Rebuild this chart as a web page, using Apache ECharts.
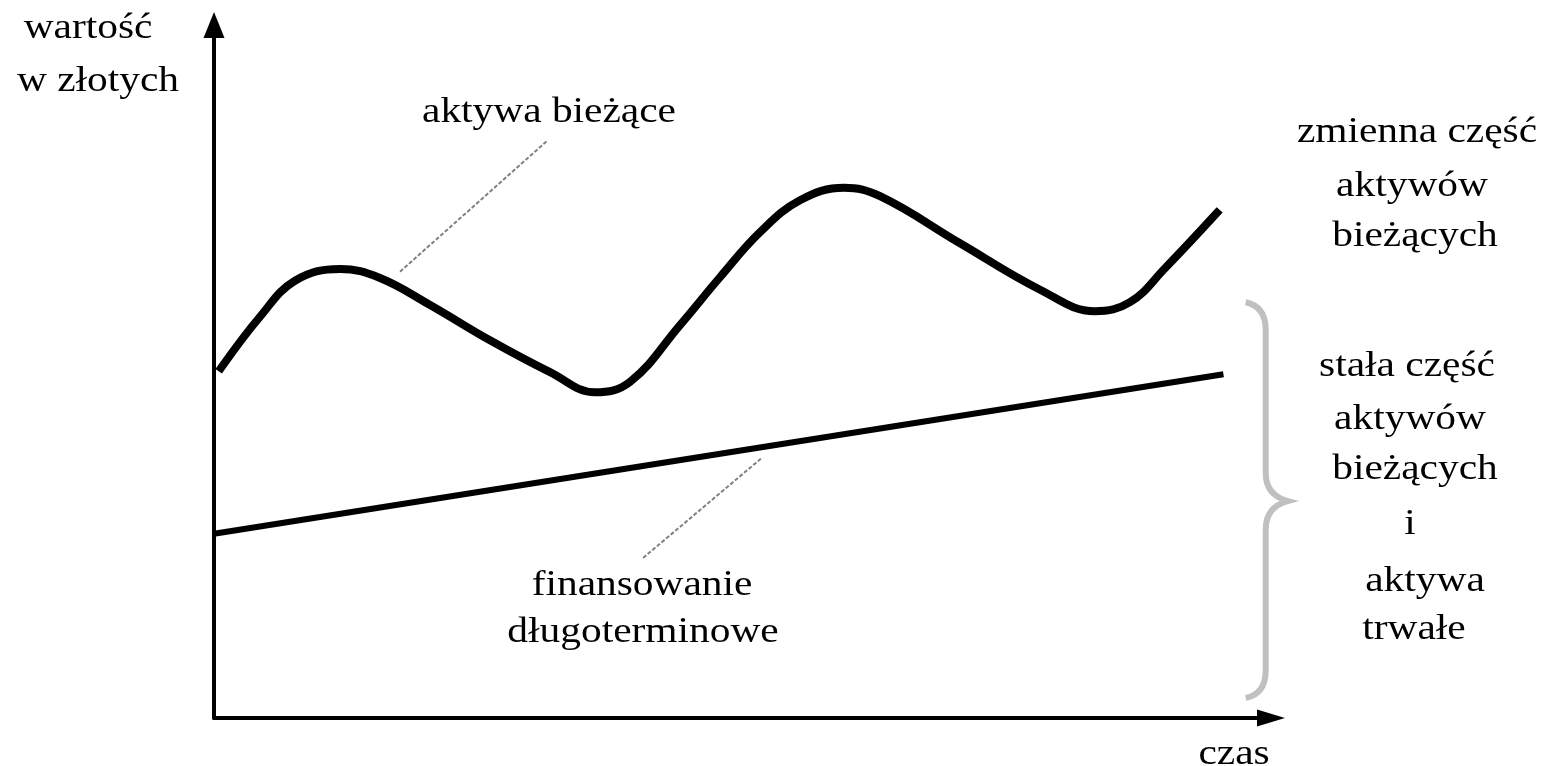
<!DOCTYPE html>
<html>
<head>
<meta charset="utf-8">
<script src="https://cdn.jsdelivr.net/npm/echarts@6/dist/echarts.min.js"></script>
<style>
  html, body { margin: 0; padding: 0; background: #fff; }
  #chart { width: 1548px; height: 766px; }
</style>
</head>
<body>
<div id="chart"></div>
<script>
// Time axis (arbitrary units 0–100) and value axis (0–100)
const czas = [0.66, 4.35, 7.66, 11.92, 15.70, 20.44, 26.11, 31.79, 36.05, 39.36, 44.09, 47.87, 51.66,
  55.44, 59.60, 63.01, 70.58, 78.15, 83.35, 86.66, 89.97, 94.89];
// Current assets, fluctuating over time
const aktywaBiezace = [50.5, 57.9, 63.1, 64.8, 63.5, 59.6, 54.5, 49.9, 47.0, 48.5, 56.7, 63.6, 70.1,
  74.7, 76.5, 75.3, 68.5, 61.8, 58.7, 60.0, 64.9, 72.9];
// Long-term financing, growing steadily
const finansowanieCzas = [0, 95.5];
const finansowanie = [26.6, 49.6];
// Pointer lines from labels to curves
const wskaznikAktywa = [[17.6, 64.4], [31.6, 83.4]];
const wskaznikFinansowanie = [[40.6, 23.1], [51.8, 37.5]];
// Brace range on the value axis: bottom, tip, top
const klamra = [2.9, 31.3, 60.0];

// Text lines
const osY = ['wartość', 'w złotych'];
const osX = 'czas';
const etykietaAktywa = 'aktywa bieżące';
const etykietaFinansowanie = ['finansowanie', 'długoterminowe'];
const opisZmienna = ['zmienna część', 'aktywów', 'bieżących'];
const opisStala = ['stała część', 'aktywów', 'bieżących', 'i', 'aktywa', 'trwałe'];

const chart = echarts.init(document.getElementById('chart'));

const FONT = '36px "Liberation Serif", "DejaVu Serif", serif';
function txt(text, x, y) {
  return {
    type: 'text', x: x, y: y, scaleX: 1.15, z: 100,
    style: { text: text, font: FONT, fill: '#000', align: 'center', verticalAlign: 'middle' }
  };
}

const textLayout = [
  [osY[0], 88, 29], [osY[1], 98, 82],
  [etykietaAktywa, 549, 113],
  [etykietaFinansowanie[0], 642, 586], [etykietaFinansowanie[1], 643, 633],
  [opisZmienna[0], 1417, 133], [opisZmienna[1], 1412, 187], [opisZmienna[2], 1415, 237],
  [opisStala[0], 1407, 367], [opisStala[1], 1410, 420], [opisStala[2], 1415, 470],
  [opisStala[3], 1410, 525], [opisStala[4], 1425, 582], [opisStala[5], 1414, 630],
  [osX, 1234, 755]
];

const axisCommon = {
  type: 'value', min: 0, max: 100,
  axisLine: { show: true, symbol: ['none', 'triangle'], lineStyle: { color: '#000', width: 4 } },
  axisTick: { show: false }, axisLabel: { show: false }, splitLine: { show: false }
};

const option = {
  animation: false,
  backgroundColor: '#fff',
  grid: { left: 214, right: 277, top: 25, bottom: 48 },
  xAxis: Object.assign({}, axisCommon, { axisLine: Object.assign({}, axisCommon.axisLine, { symbolSize: [17, 28] }) }),
  yAxis: Object.assign({}, axisCommon, { axisLine: Object.assign({}, axisCommon.axisLine, { symbolSize: [21, 26] }) }),
  series: [
    {
      type: 'line', name: 'aktywa bieżące', showSymbol: false, smooth: 0.4,
      data: czas.map((t, i) => [t, aktywaBiezace[i]]),
      lineStyle: { color: '#000', width: 8, cap: 'square' }
    },
    {
      type: 'line', name: 'finansowanie długoterminowe', showSymbol: false,
      data: finansowanieCzas.map((t, i) => [t, finansowanie[i]]),
      lineStyle: { color: '#000', width: 6 }
    },
    {
      type: 'line', showSymbol: false, data: wskaznikAktywa,
      lineStyle: { color: '#808080', width: 2, type: [4, 2] }
    },
    {
      type: 'line', showSymbol: false, data: wskaznikFinansowanie,
      lineStyle: { color: '#808080', width: 2, type: [4, 2] }
    },
    {
      type: 'custom', clip: false, data: [[0]],
      renderItem: function (params, api) {
        const bottom = api.coord([99.5, klamra[0]]);
        const tip = api.coord([99.5, klamra[1]]);
        const top = api.coord([99.5, klamra[2]]);
        const xs = bottom[0];
        const xe = xs - 20;
        const xt = xs + 22;
        const bend = 28;
        const d = [
          'M', xe, top[1],
          'Q', xs, top[1] + 4, xs, top[1] + bend,
          'L', xs, tip[1] - bend,
          'Q', xs, tip[1] - 6, xt, tip[1],
          'Q', xs, tip[1] + 6, xs, tip[1] + bend,
          'L', xs, bottom[1] - bend,
          'Q', xs, bottom[1] - 4, xe, bottom[1]
        ].join(' ');
        return {
          type: 'path',
          shape: { pathData: d },
          style: { stroke: '#c0c0c0', lineWidth: 6, fill: null }
        };
      }
    }
  ],
  graphic: textLayout.map(t => txt(t[0], t[1], t[2]))
};

chart.setOption(option);
</script>
</body>
</html>
